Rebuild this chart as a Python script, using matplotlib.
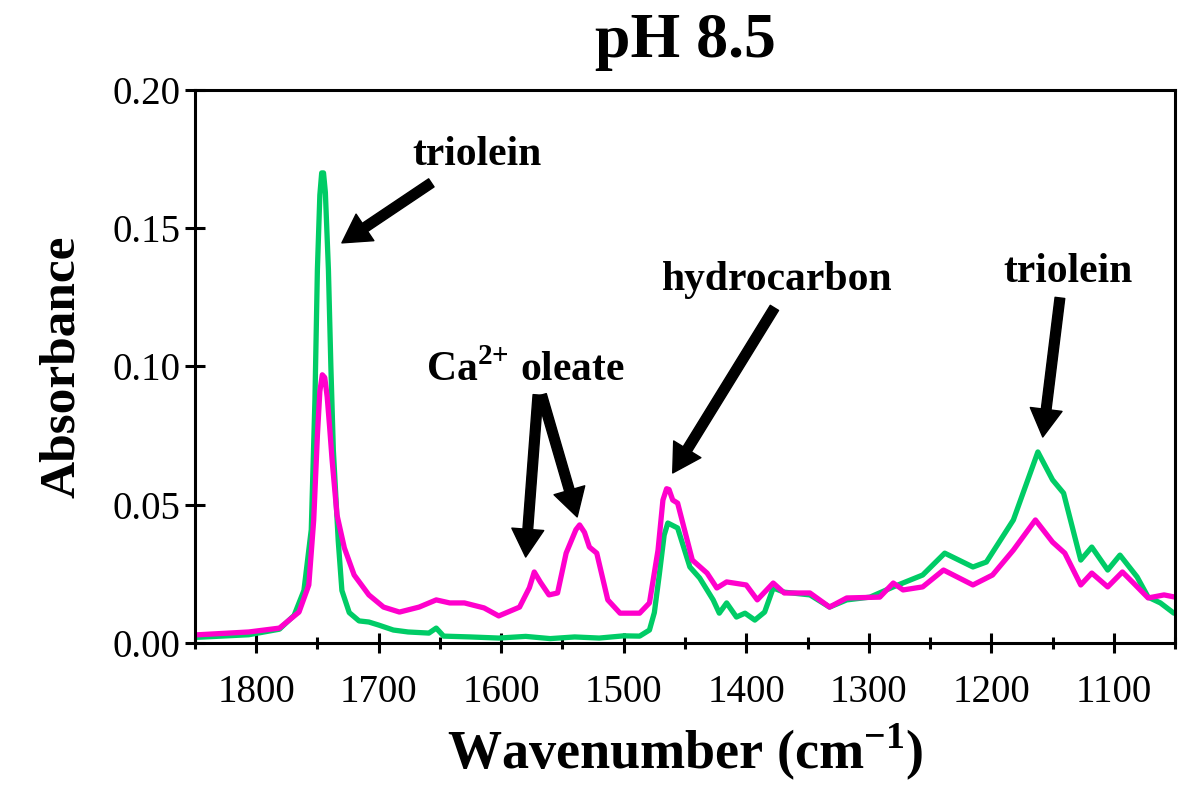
import matplotlib
matplotlib.use('Agg')
import matplotlib.pyplot as plt
import numpy as np
from matplotlib.ticker import MultipleLocator

# spectra at pH 8.5 (wavenumber in cm-1, absorbance)
wn_green = [1851, 1806, 1781, 1769, 1761, 1755, 1752, 1750, 1748, 1746.5, 1745, 1743.5, 1741,
            1739, 1737, 1733, 1730, 1724, 1716, 1708, 1700, 1688, 1676, 1659, 1653, 1647, 1625,
            1602, 1580, 1560, 1540, 1520, 1500, 1487, 1479, 1475, 1471, 1467, 1464,
            1456, 1446, 1438, 1427, 1422, 1416, 1408, 1401, 1393, 1385, 1378, 1369,
            1348, 1332, 1318, 1299, 1280, 1256, 1238, 1215, 1204, 1182, 1162, 1150,
            1141, 1127, 1118, 1105, 1095, 1081, 1072, 1062, 1051]
abs_green = [0.002, 0.003, 0.005, 0.010, 0.019, 0.041, 0.088, 0.135, 0.162, 0.170, 0.170, 0.163, 0.135,
             0.100, 0.070, 0.037, 0.019, 0.011, 0.008, 0.0076, 0.0065, 0.0047, 0.004, 0.0036, 0.0054, 0.0025, 0.0022,
             0.0018, 0.0024, 0.0016, 0.0022, 0.0018, 0.0026, 0.0025, 0.0047, 0.011, 0.0246, 0.039, 0.0434,
             0.0416, 0.0275, 0.0235, 0.0156, 0.0108, 0.0145, 0.0094, 0.0108, 0.0083, 0.0112, 0.0199, 0.0184,
             0.0174, 0.013, 0.0156, 0.0166, 0.0203, 0.0246, 0.0325, 0.0275, 0.0293, 0.0445, 0.0691, 0.059,
             0.0542, 0.030, 0.0347, 0.0264, 0.0318, 0.0239, 0.0166, 0.0145, 0.0108]

wn_pink = [1851, 1806, 1781, 1765, 1757, 1753, 1750, 1748, 1746, 1744, 1742, 1740, 1738, 1734, 1728,
           1720, 1708, 1696, 1683, 1667, 1653, 1642, 1630, 1614, 1602, 1585, 1577, 1573,
           1568, 1561, 1554, 1547, 1539, 1536, 1532, 1528, 1522, 1513, 1503, 1487, 1479, 1472, 1468,
           1465, 1463, 1460, 1456, 1444, 1432, 1424, 1416, 1400, 1391, 1378, 1369, 1348,
           1332, 1318, 1291, 1280, 1272, 1256, 1239, 1215, 1199, 1182, 1164, 1150,
           1140, 1127, 1118, 1105, 1093, 1084, 1072, 1059, 1050]
abs_pink = [0.0029, 0.004, 0.0054, 0.0112, 0.021, 0.0445, 0.075, 0.091, 0.097, 0.096, 0.089, 0.078, 0.0662, 0.0463, 0.0344,
            0.0246, 0.0174, 0.013, 0.0112, 0.013, 0.0156, 0.0145, 0.0145, 0.0127, 0.0098, 0.013, 0.020, 0.0257,
            0.022, 0.0174, 0.0181, 0.0325, 0.041, 0.0427, 0.040, 0.0347, 0.0325, 0.0156, 0.0108, 0.0108, 0.0145, 0.0336, 0.0517,
            0.0558, 0.0555, 0.0517, 0.0506, 0.030, 0.0253, 0.0199, 0.0221, 0.021, 0.0156, 0.0217, 0.0181, 0.0181,
            0.013, 0.0163, 0.0166, 0.0217, 0.0192, 0.0203, 0.0264, 0.021, 0.0246, 0.0336, 0.0445, 0.0365,
            0.0325, 0.021, 0.0253, 0.0203, 0.0257, 0.0217, 0.0163, 0.0174, 0.0166]

# label text, label position, arrow tails and heads
labels = ['triolein', 'Ca$^{\\mathbf{2{+}}}$ oleate', 'hydrocarbon', 'triolein']
label_xy = [(1620, 0.1765), (1580, 0.0987), (1375, 0.1313), (1137, 0.1342)]
arrows = [((1657, 0.1664), (1730, 0.1447)),
          ((1570, 0.0897), (1580, 0.0311)),
          ((1567, 0.0897), (1538, 0.0456)),
          ((1377, 0.1212), (1460, 0.0615)),
          ((1144, 0.1248), (1158, 0.0745))]

plt.rcParams['font.family'] = ['Liberation Serif', 'DejaVu Serif']
plt.rcParams['mathtext.fontset'] = 'custom'
plt.rcParams['mathtext.rm'] = 'Liberation Serif:bold'
plt.rcParams['mathtext.bf'] = 'Liberation Serif:bold'

fig, ax = plt.subplots(figsize=(11.81, 7.89), dpi=100)
fig.subplots_adjust(left=0.165, right=0.995, top=0.886, bottom=0.185)

ax.plot(wn_green, abs_green, color='#00CC66', lw=3.8, solid_joinstyle='round', solid_capstyle='round')
ax.plot(wn_pink, abs_pink, color='#FF00CC', lw=3.8, solid_joinstyle='round', solid_capstyle='round')

ax.set_xlim(1850, 1050)
ax.set_ylim(0, 0.20)
ax.xaxis.set_major_locator(MultipleLocator(100))
ax.xaxis.set_minor_locator(MultipleLocator(50))
ax.yaxis.set_major_locator(MultipleLocator(0.05))
ax.yaxis.set_major_formatter(matplotlib.ticker.FormatStrFormatter('%.2f'))

for s in ax.spines.values():
    s.set_linewidth(2.2)
ax.tick_params(axis='x', which='major', direction='inout', length=15, width=2.2,
               labelsize=28, pad=15)
ax.tick_params(axis='x', which='minor', direction='inout', length=9, width=2.2)
ax.tick_params(axis='y', which='major', direction='inout', length=15, width=2.2,
               labelsize=28, pad=3)

ax.set_title('pH 8.5', fontsize=46, fontweight='bold', pad=24)
ax.set_ylabel('Absorbance', fontsize=37, fontweight='bold', labelpad=20)
ax.set_xlabel('Wavenumber (cm$^{\\mathbf{-1}}$)', fontsize=39, fontweight='bold', labelpad=7)

for txt, (x, y) in zip(labels, label_xy):
    ax.text(x, y, txt, fontsize=30, fontweight='bold', ha='center', va='center')
for tail, head in arrows:
    ax.annotate('', xy=head, xytext=tail,
                arrowprops=dict(facecolor='black', edgecolor='black',
                                width=7, headwidth=23, headlength=20))

plt.savefig('out.png')
